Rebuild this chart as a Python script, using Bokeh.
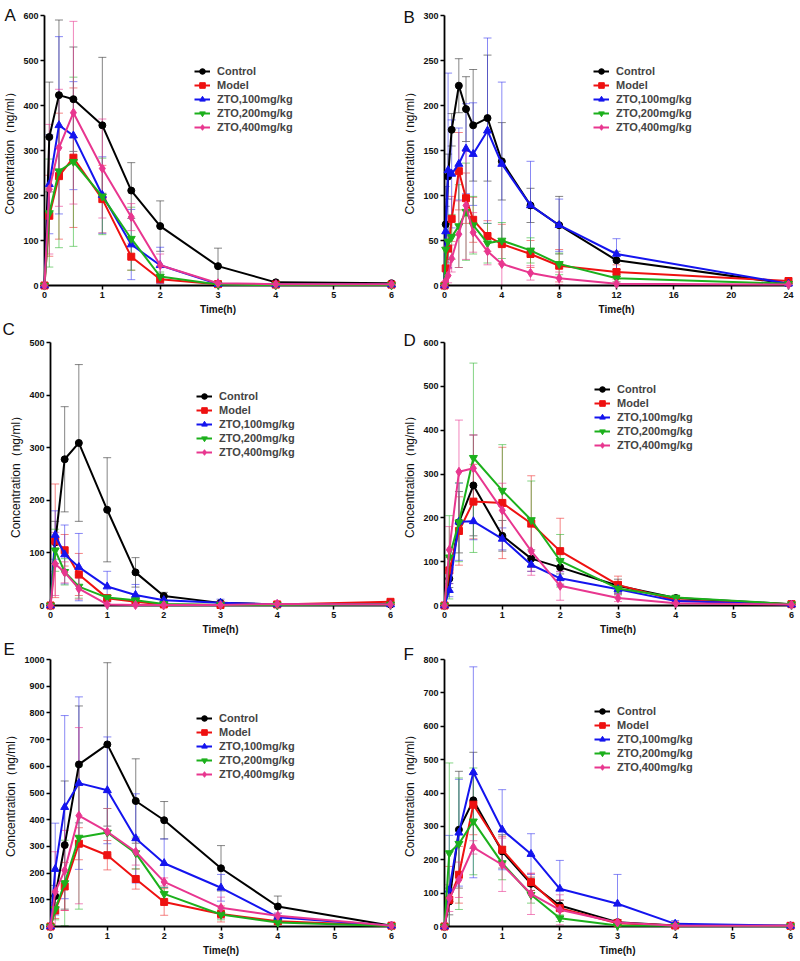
from bokeh.plotting import figure
from bokeh.models import (ColumnDataSource, Whisker, TeeHead, Legend, LegendItem,
                          FixedTicker, Range1d)
from bokeh.layouts import column, row
from bokeh.core.properties import value
from bokeh.embed import file_html
from bokeh.resources import INLINE

# ---------------- data ----------------
GROUPS = ["Control", "Model", "ZTO,100mg/kg", "ZTO,200mg/kg", "ZTO,400mg/kg"]

T_6H = [0, 0.083, 0.25, 0.5, 1, 1.5, 2, 3, 4, 6]
T_24H = [0, 0.083, 0.25, 0.5, 1, 1.5, 2, 3, 4, 6, 8, 12, 24]

X_TICKS_6H = [0, 1, 2, 3, 4, 5, 6]
X_TICKS_24H = [0, 4, 8, 12, 16, 20, 24]
Y_TICKS_A = [0, 100, 200, 300, 400, 500, 600]
Y_TICKS_B = [0, 50, 100, 150, 200, 250, 300]
Y_TICKS_C = [0, 100, 200, 300, 400, 500]
Y_TICKS_D = [0, 100, 200, 300, 400, 500, 600]
Y_TICKS_E = [0, 100, 200, 300, 400, 500, 600, 700, 800, 900, 1000]
Y_TICKS_F = [0, 100, 200, 300, 400, 500, 600, 700, 800]

# Panel A
A_control = [0, 330, 423, 414, 356, 211, 132, 43, 7, 5]
A_control_sd = [0, 122, 167, 116, 151, 62, 56, 40, 2, 1]
A_model = [0, 155, 243, 284, 192, 64, 14, 3, 2, 2]
A_model_sd = [0, 90, 140, 155, 75, 30, 10, 2, 1, 1]
A_zto100 = [0, 225, 356, 333, 201, 91, 45, 3, 2, 2]
A_zto100_sd = [0, 110, 197, 120, 85, 78, 40, 2, 1, 1]
A_zto200 = [0, 161, 254, 275, 198, 104, 20, 2, 1, 1]
A_zto200_sd = [0, 120, 170, 188, 85, 70, 10, 1, 1, 1]
A_zto400 = [0, 214, 306, 384, 260, 152, 45, 5, 3, 3]
A_zto400_sd = [0, 144, 130, 203, 110, 30, 25, 3, 1, 1]

# Panel B (24 h)
B_control = [0, 68, 121, 173, 222, 196, 178, 186, 138, 89, 67, 28, 2]
B_control_sd = [0, 20, 25, 18, 30, 36, 62, 70, 43, 19, 32, 10, 1]
B_model = [0, 19, 41, 74, 127, 97, 73, 55, 46, 35, 22, 15, 5]
B_model_sd = [0, 10, 15, 25, 43, 28, 25, 17, 22, 15, 18, 8, 2]
B_zto100 = [0, 60, 128, 124, 135, 152, 146, 172, 135, 89, 67, 35, 2]
B_zto100_sd = [0, 50, 108, 60, 40, 50, 57, 103, 91, 49, 29, 17, 1]
B_zto200 = [0, 40, 49, 54, 66, 82, 67, 47, 50, 39, 24, 8, 2]
B_zto200_sd = [0, 15, 20, 25, 46, 54, 32, 22, 20, 14, 12, 4, 1]
B_zto400 = [0, 5, 11, 30, 57, 89, 59, 38, 24, 14, 8, 2, 1]
B_zto400_sd = [0, 4, 8, 15, 37, 60, 22, 15, 25, 8, 7, 2, 1]

# Panel C
C_control = [0, 120, 278, 309, 182, 63, 18, 5, 2, 2]
C_control_sd = [0, 40, 100, 149, 99, 28, 7, 3, 1, 1]
C_model = [0, 123, 105, 59, 14, 7, 2, 1, 2, 7]
C_model_sd = [0, 108, 30, 40, 5, 4, 1, 1, 1, 3]
C_zto100 = [0, 134, 97, 73, 36, 20, 10, 5, 2, 2]
C_zto100_sd = [0, 46, 56, 64, 29, 20, 5, 7, 1, 1]
C_zto200 = [0, 105, 64, 36, 15, 10, 3, 1, 1, 2]
C_zto200_sd = [0, 40, 25, 22, 5, 4, 1, 1, 1, 1]
C_zto400 = [0, 79, 63, 32, 2, 1, 1, 1, 3, 2]
C_zto400_sd = [0, 60, 20, 20, 1, 1, 1, 1, 4, 1]

# Panel D
D_control = [0, 61, 190, 274, 159, 107, 87, 45, 17, 3]
D_control_sd = [0, 20, 70, 115, 35, 20, 15, 15, 5, 1]
D_model = [0, 80, 170, 237, 234, 187, 124, 47, 12, 3]
D_model_sd = [0, 30, 78, 85, 127, 109, 75, 20, 5, 1]
D_zto100 = [0, 35, 191, 192, 152, 93, 62, 37, 10, 2]
D_zto100_sd = [0, 15, 88, 42, 25, 15, 15, 10, 3, 1]
D_zto200 = [0, 110, 190, 337, 262, 195, 102, 39, 18, 3]
D_zto200_sd = [0, 95, 90, 216, 105, 89, 60, 15, 5, 1]
D_zto400 = [0, 127, 305, 313, 217, 124, 45, 17, 5, 2]
D_zto400_sd = [0, 53, 118, 76, 62, 55, 33, 8, 2, 1]

# Panel E
E_control = [0, 114, 305, 607, 682, 470, 398, 218, 75, 3]
E_control_sd = [0, 40, 240, 219, 306, 158, 70, 85, 39, 2]
E_model = [0, 60, 150, 310, 267, 178, 92, 47, 20, 3]
E_model_sd = [0, 30, 90, 60, 55, 38, 50, 30, 10, 2]
E_zto100 = [0, 215, 447, 537, 510, 330, 237, 145, 35, 3]
E_zto100_sd = [0, 172, 343, 323, 200, 167, 91, 50, 15, 2]
E_zto200 = [0, 65, 163, 333, 352, 275, 122, 45, 15, 2]
E_zto200_sd = [0, 40, 160, 268, 90, 60, 25, 20, 8, 1]
E_zto400 = [0, 130, 210, 415, 355, 280, 167, 70, 40, 3]
E_zto400_sd = [0, 150, 150, 330, 87, 50, 15, 40, 10, 2]

# Panel F
F_control = [0, 75, 290, 378, 225, 128, 63, 13, 3, 2]
F_control_sd = [0, 40, 175, 144, 50, 20, 15, 8, 2, 1]
F_model = [0, 80, 155, 365, 230, 133, 55, 10, 3, 2]
F_model_sd = [0, 100, 85, 90, 40, 25, 25, 5, 2, 1]
F_zto100 = [0, 110, 281, 462, 290, 217, 113, 68, 8, 2]
F_zto100_sd = [0, 163, 160, 316, 120, 61, 85, 88, 10, 1]
F_zto200 = [0, 220, 248, 315, 190, 95, 25, 3, 2, 1]
F_zto200_sd = [0, 270, 197, 160, 50, 25, 10, 2, 1, 1]
F_zto400 = [0, 85, 140, 237, 185, 98, 50, 12, 2, 2]
F_zto400_sd = [0, 40, 53, 20, 80, 62, 45, 8, 1, 1]

# ---------------- style ----------------
COLORS = ["#000000", "#ee1111", "#1414ee", "#1cb01c", "#e8368f"]
ERR_COLORS = ["#333333", "#ee3333", "#3a3aee", "#33b833", "#e8368f"]
MARKERS = ["circle", "square", "triangle", "inverted_triangle", "diamond"]
SIZES = [7, 7, 8, 8, 9]
FONT = "Liberation Sans"


def make_panel(letter, t, series, sds, yticks, xticks, w, h, bl, br, bt, bb,
               leg_xy, letter_dx, letter_dy):
    p = figure(width=w, height=h, x_range=Range1d(0, xticks[-1]),
               y_range=Range1d(0, yticks[-1]), output_backend="svg",
               toolbar_location=None, min_border_left=bl, min_border_right=br,
               min_border_top=bt, min_border_bottom=bb)
    p.outline_line_color = None
    p.xgrid.visible = False
    p.ygrid.visible = False
    p.background_fill_color = "white"
    p.border_fill_color = "white"

    p.xaxis.ticker = FixedTicker(ticks=xticks)
    p.yaxis.ticker = FixedTicker(ticks=yticks)
    for ax in (p.xaxis[0], p.yaxis[0]):
        ax.axis_line_width = 1.8
        ax.major_tick_line_width = 1.5
        ax.major_tick_in = 0
        ax.major_tick_out = 4
        ax.minor_tick_line_color = None
        ax.major_label_standoff = 2
        ax.axis_label_standoff = 3
        ax.major_label_text_font = FONT
        ax.major_label_text_font_style = "bold"
        ax.major_label_text_font_size = "9px"
        ax.major_label_text_color = "#111111"
        ax.axis_label_text_font = FONT
        ax.axis_label_text_color = "#111111"
    p.xaxis.axis_label = "Time(h)"
    p.xaxis.axis_label_text_font_style = "bold"
    p.xaxis.axis_label_text_font_size = "10px"
    p.yaxis.axis_label = "Concentration（ng/ml）"
    p.yaxis.axis_label_text_font_style = "normal"
    p.yaxis.axis_label_text_font_size = "12px"

    items = []
    for i, (m, sd) in enumerate(zip(series, sds)):
        src = ColumnDataSource(dict(
            t=t, m=m,
            lo=[a - b for a, b in zip(m, sd)],
            hi=[a + b for a, b in zip(m, sd)]))
        wk = Whisker(source=src, base="t", lower="lo", upper="hi",
                     line_color=ERR_COLORS[i], line_alpha=0.6, line_width=1,
                     upper_head=TeeHead(size=8, line_color=ERR_COLORS[i], line_alpha=0.6, line_width=1),
                     lower_head=TeeHead(size=8, line_color=ERR_COLORS[i], line_alpha=0.6, line_width=1))
        p.add_layout(wk)
        lr = p.line("t", "m", source=src, line_color=COLORS[i], line_width=2, level="overlay")
        sr = p.scatter("t", "m", source=src, marker=MARKERS[i], size=SIZES[i],
                       fill_color=COLORS[i], line_color=COLORS[i], level="overlay")
        items.append(LegendItem(label=GROUPS[i], renderers=[lr, sr]))

    leg = Legend(items=items, location=leg_xy, border_line_color=None,
                 background_fill_alpha=0, label_text_font=FONT,
                 label_text_font_style="bold", label_text_font_size="11px",
                 glyph_width=16, glyph_height=14, label_height=14,
                 label_standoff=7, spacing=0, padding=0, margin=0)
    p.add_layout(leg)

    # panel letter, drawn at the top-left corner outside the frame
    p.text(x=[xticks[0]], y=[yticks[-1]], text=[letter], x_offset=letter_dx,
           y_offset=letter_dy, text_font=value(FONT), text_font_size="17px",
           text_baseline="top", text_align="left", text_color="#111111",
           level="overlay")
    return p


pA = make_panel("A", T_6H,
                [A_control, A_model, A_zto100, A_zto200, A_zto400],
                [A_control_sd, A_model_sd, A_zto100_sd, A_zto200_sd, A_zto400_sd],
                Y_TICKS_A, X_TICKS_6H, 400, 320, 43, 9, 15, 33, (150, 151), -40, -10)
pB = make_panel("B", T_24H,
                [B_control, B_model, B_zto100, B_zto200, B_zto400],
                [B_control_sd, B_model_sd, B_zto100_sd, B_zto200_sd, B_zto400_sd],
                Y_TICKS_B, X_TICKS_24H, 400, 320, 41, 12, 12, 35, (149, 151), -41, -8)
pC = make_panel("C", T_6H,
                [C_control, C_model, C_zto100, C_zto200, C_zto400],
                [C_control_sd, C_model_sd, C_zto100_sd, C_zto200_sd, C_zto400_sd],
                Y_TICKS_C, X_TICKS_6H, 400, 317, 50, 10, 22, 28, (146, 146), -48, -23)
pD = make_panel("D", T_6H,
                [D_control, D_model, D_zto100, D_zto200, D_zto400],
                [D_control_sd, D_model_sd, D_zto100_sd, D_zto200_sd, D_zto400_sd],
                Y_TICKS_D, X_TICKS_6H, 400, 317, 41, 9, 11, 30, (150, 153), -41, -12)
pE = make_panel("E", T_6H,
                [E_control, E_model, E_zto100, E_zto200, E_zto400],
                [E_control_sd, E_model_sd, E_zto100_sd, E_zto200_sd, E_zto400_sd],
                Y_TICKS_E, X_TICKS_6H, 400, 323, 50, 9, 22, 34, (146, 145), -47, -20)
pF = make_panel("F", T_6H,
                [F_control, F_model, F_zto100, F_zto200, F_zto400],
                [F_control_sd, F_model_sd, F_zto100_sd, F_zto200_sd, F_zto400_sd],
                Y_TICKS_F, X_TICKS_6H, 400, 323, 41, 10, 16, 34, (150, 152), -41, -15)

layout = column(row(pA, pB), row(pC, pD), row(pE, pF))

with open("out.html", "w") as f:
    f.write(file_html(layout, INLINE))
